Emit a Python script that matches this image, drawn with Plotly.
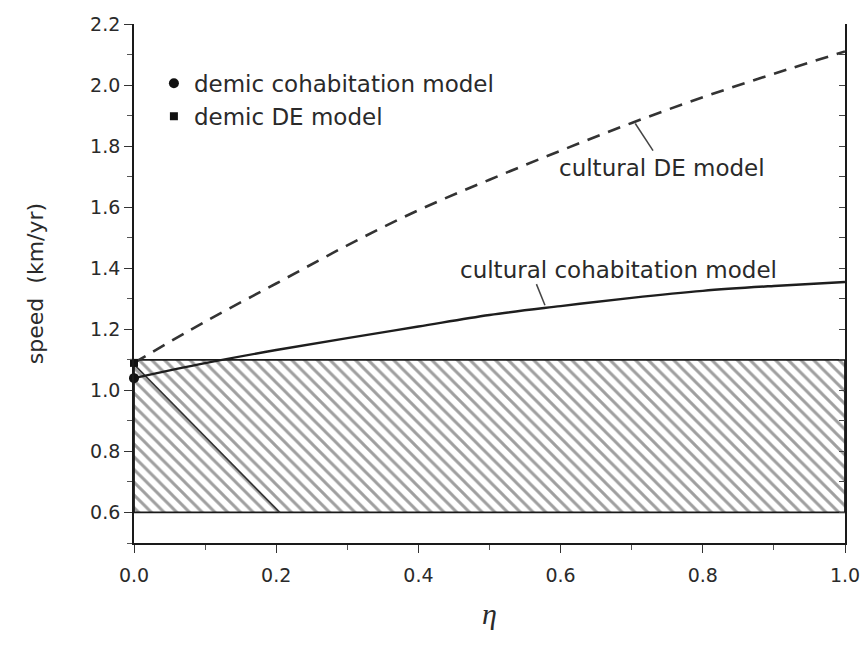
import plotly.graph_objects as go

# ---- data ----
eta = [0.0, 0.1, 0.2, 0.3, 0.4, 0.5, 0.6, 0.7, 0.8, 0.9, 1.0]
cultural_cohab = [1.04, 1.089, 1.132, 1.171, 1.209, 1.247, 1.276, 1.303, 1.326, 1.342, 1.355]
cultural_de = [1.09, 1.225, 1.35, 1.475, 1.59, 1.69, 1.785, 1.876, 1.96, 2.037, 2.11]

demic_cohab_eta = [0.0]
demic_cohab_speed = [1.04]
demic_de_eta = [0.0]
demic_de_speed = [1.09]

# observed range (hatched box)
box_eta = [0.0, 1.0, 1.0, 0.0, 0.0]
box_speed = [0.6, 0.6, 1.1, 1.1, 0.6]

# darker line inside hatch
dark_eta = [0.0, 0.205]
dark_speed = [1.085, 0.6]

# annotation anchors (text position, pointer start, pointer end)
de_label = dict(text="cultural DE model", x=0.742, y=1.729)
de_ptr = dict(x0=0.730, y0=1.785, x1=0.705, y1=1.874)
co_label = dict(text="cultural cohabitation model", x=0.681, y=1.395)
co_ptr = dict(x0=0.566, y0=1.348, x1=0.578, y1=1.279)

xticks = [0.0, 0.2, 0.4, 0.6, 0.8, 1.0]
xticklabels = ["0.0", "0.2", "0.4", "0.6", "0.8", "1.0"]
yticks = [0.6, 0.8, 1.0, 1.2, 1.4, 1.6, 1.8, 2.0, 2.2]
yticklabels = ["0.6", "0.8", "1.0", "1.2", "1.4", "1.6", "1.8", "2.0", "2.2"]

FONT = "DejaVu Sans"
TXT = "#2a2a2a"

fig = go.Figure()

fig.add_trace(go.Scatter(
    x=box_eta, y=box_speed, mode="lines", fill="toself",
    fillcolor="white",
    fillpattern=dict(shape="\\", size=9, solidity=0.33, fgcolor="#404040", bgcolor="white"),
    line=dict(color="#1a1a1a", width=1.8), showlegend=False, hoverinfo="skip"))

fig.add_trace(go.Scatter(
    x=dark_eta, y=dark_speed, mode="lines",
    line=dict(color="#333333", width=1.6), showlegend=False, hoverinfo="skip"))

fig.add_trace(go.Scatter(
    x=eta, y=cultural_de, mode="lines",
    line=dict(color="#333333", width=2.6, dash="13px,9px", shape="spline"),
    showlegend=False, name="cultural DE model"))

fig.add_trace(go.Scatter(
    x=eta, y=cultural_cohab, mode="lines",
    line=dict(color="#1e1e1e", width=2.4, shape="spline"),
    showlegend=False, name="cultural cohabitation model"))

fig.add_trace(go.Scatter(
    x=demic_cohab_eta, y=demic_cohab_speed, mode="markers",
    marker=dict(symbol="circle", size=10, color="#111111"),
    name="demic cohabitation model", cliponaxis=False))

fig.add_trace(go.Scatter(
    x=demic_de_eta, y=demic_de_speed, mode="markers",
    marker=dict(symbol="square", size=8, color="#111111"),
    name="demic DE model", cliponaxis=False))

# invisible trace to carry the right-hand mirror axis
fig.add_trace(go.Scatter(
    x=eta, y=cultural_cohab, mode="lines", yaxis="y2",
    line=dict(width=0, color="rgba(0,0,0,0)"), showlegend=False, hoverinfo="skip"))

for lab, ptr in ((de_label, de_ptr), (co_label, co_ptr)):
    fig.add_annotation(x=lab["x"], y=lab["y"], text=lab["text"], showarrow=False,
                       font=dict(family=FONT, size=23, color=TXT))
    fig.add_shape(type="line", x0=ptr["x0"], y0=ptr["y0"], x1=ptr["x1"], y1=ptr["y1"],
                  line=dict(color="#444444", width=1.5))

fig.update_layout(
    width=863, height=646,
    margin=dict(l=134, r=18, t=24, b=103, autoexpand=False),
    paper_bgcolor="white", plot_bgcolor="white",
    font=dict(family=FONT, color=TXT),
    legend=dict(x=0.028, y=0.927, xanchor="left", yanchor="top",
                bgcolor="rgba(0,0,0,0)", font=dict(family=FONT, size=23, color=TXT),
                itemwidth=30, tracegroupgap=0),
    xaxis=dict(range=[0, 1.0], showgrid=False, zeroline=False, automargin=False,
               showline=True, linecolor="#1a1a1a", linewidth=1.8,
               ticks="outside", ticklen=8, tickwidth=1.4, tickcolor="#333333",
               tickvals=xticks, ticktext=xticklabels, ticklabelstandoff=6,
               tickfont=dict(family=FONT, size=19, color=TXT),
               minor=dict(dtick=0.1, tick0=0, ticks="outside", ticklen=5, tickcolor="#555555", showgrid=False),
               title=dict(text="<i>η</i>", font=dict(family="Liberation Serif", size=30, color=TXT), standoff=18)),
    yaxis=dict(range=[0.5, 2.2], showgrid=False, zeroline=False, automargin=False,
               showline=True, linecolor="#1a1a1a", linewidth=1.8,
               ticks="outside", ticklen=8, tickwidth=1.4, tickcolor="#333333",
               tickvals=yticks, ticktext=yticklabels,
               tickfont=dict(family=FONT, size=19, color=TXT),
               minor=dict(dtick=0.1, tick0=0, ticks="outside", ticklen=5, tickcolor="#555555", showgrid=False),
               title=dict(text="speed  (km/yr)", font=dict(family=FONT, size=22, color=TXT), standoff=40)),
    yaxis2=dict(range=[0.5, 2.2], overlaying="y", side="right", anchor="x", automargin=False,
                showgrid=False, zeroline=False, showline=True, linecolor="#1a1a1a", linewidth=1.8,
                ticks="inside", ticklen=6, tickcolor="#444444", dtick=0.1, tick0=0,
                showticklabels=False),
)

fig.write_html("out.html",
               config={"displayModeBar": False},
               post_script="document.body.style.margin='0px';document.body.style.overflow='hidden';")
